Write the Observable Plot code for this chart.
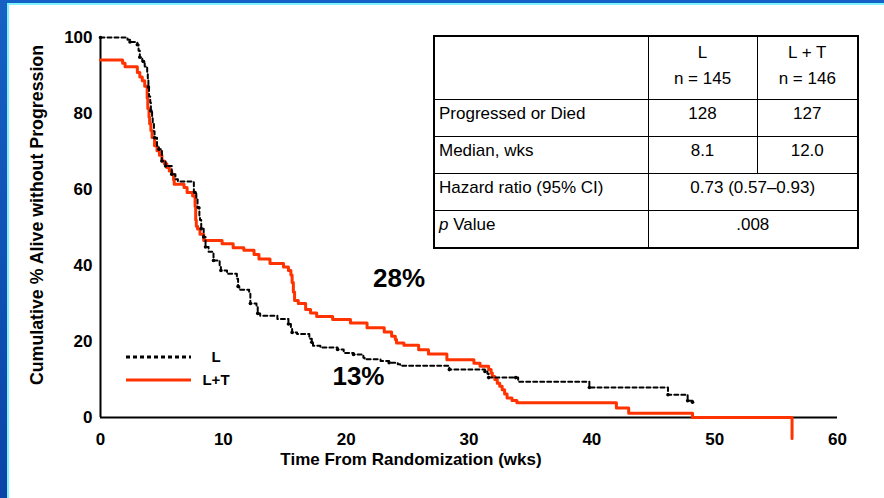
<!DOCTYPE html>
<html>
<head>
<meta charset="utf-8">
<script src="https://cdn.jsdelivr.net/npm/d3@7"></script>
<script src="https://cdn.jsdelivr.net/npm/@observablehq/plot@0.6"></script>
<style>
  html, body { margin: 0; padding: 0; background: #fff; }
  body { width: 884px; height: 498px; position: relative; overflow: hidden;
         font-family: "Liberation Sans", Arial, Helvetica, sans-serif; }
  #chart { position: absolute; left: 0; top: 0; }
  .band-left { position: absolute; left: 0; top: 0; width: 7px; height: 498px;
               background: linear-gradient(#1760c4, #0a44a6); }
  .band-left-c { position: absolute; left: 7px; top: 3px; width: 2px; height: 495px; background: #7ff3ff; }
  .band-top { position: absolute; left: 0; top: 0; width: 884px; height: 3px; background: #1462c8; }
  .band-top-c { position: absolute; left: 7px; top: 3px; width: 877px; height: 2px; background: #7ff3ff; }
  .ytitle { position: absolute; left: 37px; top: 215px; transform: translate(-50%, -50%) rotate(-90deg);
            white-space: nowrap; font-weight: bold; font-size: 17.8px; color: #000; }
  .xtitle { position: absolute; left: 411px; top: 460px; transform: translate(-50%, -50%);
            white-space: nowrap; font-weight: bold; font-size: 17px; color: #000; }
  table.stats { position: absolute; left: 433px; top: 35px; border-collapse: collapse;
                border: 2px solid #000; font-size: 17px; color: #000; table-layout: fixed; }
  table.stats td { border: 1px solid #000; padding: 0 0 8px 0; text-align: center; vertical-align: middle; }
  table.stats td.lab { text-align: left; padding-left: 4px; }
  table.stats tr.h td { height: 57px; line-height: 26px; padding-bottom: 5px; }
  table.stats tr.r td { height: 28px; }
  #legend { position: absolute; left: 0; top: 0; }
</style>
</head>
<body>
<div id="chart"></div>
<div class="band-top"></div>
<div class="band-left"></div>
<div class="band-left-c"></div>
<div class="band-top-c"></div>
<div class="ytitle" id="ytitle"></div>
<div class="xtitle" id="xtitle"></div>
<div id="tablewrap"></div>
<svg id="legend" width="884" height="498"></svg>
<script>
// ---- data ----
const xTicks = [0, 10, 20, 30, 40, 50, 60];
const yTicks = [0, 20, 40, 60, 80, 100];
const xTitle = "Time From Randomization (wks)";
const yTitle = "Cumulative % Alive without Progression";

// L arm (black dotted) Kaplan–Meier steps
const lTimes = [0, 2.2, 2.4, 3.0, 3.1, 3.2, 3.4, 3.6, 3.8, 3.85, 3.9, 3.95, 4.05, 4.1, 4.2, 4.25, 4.35, 4.4, 4.6, 4.75, 5.0, 5.3, 5.8, 6.1, 6.3, 7.6, 7.8, 7.9, 8.05, 8.1, 8.2, 8.4, 8.55, 8.8, 9.2, 9.7, 9.8, 10.3, 11.1, 11.2, 11.3, 12.1, 12.2, 12.7, 12.8, 13.0, 14.4, 15.3, 15.5, 15.6, 16.0, 17.0, 17.2, 17.3, 17.9, 19.3, 19.8, 20.6, 21.4, 21.5, 22.8, 23.5, 24.2, 24.4, 28.4, 31.3, 31.5, 31.6, 34.0, 39.8, 46.2, 47.8, 48.2];
const lSurv  = [100, 99.4, 98.8, 98.1, 96.5, 94.8, 93.7, 92.4, 91.0, 89.3, 87.0, 84.5, 82.9, 80.7, 79.0, 77.4, 75.3, 73.6, 71.3, 70.6, 67.5, 66.2, 64.0, 62.7, 62.1, 59.2, 57.5, 55.2, 52.5, 52.0, 49.7, 47.5, 44.9, 43.6, 41.3, 40.0, 38.7, 37.8, 36.5, 34.5, 33.6, 32.7, 30.0, 29.2, 27.4, 26.8, 25.9, 24.6, 23.3, 22.4, 22.0, 20.7, 19.8, 18.9, 18.4, 17.9, 17.0, 16.6, 15.7, 15.3, 14.9, 14.4, 14.0, 13.6, 12.6, 12.1, 11.5, 10.5, 9.4, 7.9, 6.0, 4.4, 4.0];
// censor marks on the L curve (times)
const lCensor = [0, 2.4, 3.0, 3.2, 3.5, 3.9, 4.1, 4.4, 4.75, 5.0, 5.3, 5.8, 7.7, 8.0, 8.2, 8.4, 8.55, 9.2, 9.8, 11.2, 12.2, 12.8, 15.3, 15.6, 17.2, 19.3, 20.6, 23.5, 28.4, 31.3, 31.6, 33.8, 39.8, 46.2, 47.8, 48.2];

// L+T arm (red) Kaplan–Meier steps
const ltTimes = [0, 1.8, 2.0, 3.0, 3.2, 3.4, 3.6, 3.8, 3.85, 3.95, 4.0, 4.1, 4.2, 4.4, 4.6, 4.8, 5.0, 5.2, 5.4, 5.6, 5.8, 5.95, 6.0, 6.8, 7.05, 7.5, 7.7, 7.75, 7.8, 7.9, 8.1, 8.4, 9.9, 10.8, 11.67, 12.5, 12.9, 13.8, 14.9, 15.3, 15.5, 15.6, 15.7, 15.8, 16.1, 16.7, 17.1, 17.6, 18.9, 20.35, 21.7, 23.1, 23.7, 24.0, 24.1, 24.7, 25.9, 26.7, 28.2, 30.4, 30.9, 31.6, 31.8, 31.9, 32.1, 32.3, 32.5, 32.7, 32.9, 33.1, 33.5, 33.9, 42.0, 43.0, 48.2, 56.3];
const ltSurv  = [94.1, 93.2, 92.3, 90.8, 89.6, 88.6, 87.2, 84.0, 81.3, 79.0, 77.3, 75.5, 73.7, 71.5, 70.2, 69.0, 67.5, 66.8, 65.8, 64.9, 64.0, 62.5, 61.4, 60.5, 59.2, 58.3, 55.5, 52.0, 50.3, 49.6, 48.2, 46.6, 45.7, 44.7, 44.0, 42.9, 41.7, 40.5, 39.6, 38.7, 37.5, 35.5, 33.0, 30.8, 30.0, 28.4, 27.5, 26.6, 25.8, 24.9, 23.6, 22.5, 21.4, 20.5, 19.6, 19.0, 17.8, 16.7, 15.2, 14.3, 13.5, 12.6, 11.7, 10.8, 10.0, 9.0, 8.2, 7.3, 6.2, 5.1, 4.5, 3.9, 2.5, 1.1, 0, -5.5];

// in-plot annotations
const annLabels = ["28%", "13%"];
const annX = [24.3, 21.0];
const annY = [36.6, 10.8];

// legend
const seriesNames = ["L", "L+T"];
const seriesColors = ["#000000", "#ff3300"];

// table
const tableHead = [["L", "n = 145"], ["L + T", "n = 146"]];
const tableRows = ["Progressed or Died", "Median, wks"];
const tableL = ["128", "8.1"];
const tableLT = ["127", "12.0"];
const hrLabel = "Hazard ratio (95% CI)";
const hrValue = "0.73 (0.57\u20130.93)";
const pValue = ".008";

// ---- build ----
const lData = lTimes.map((t, i) => ({t, s: lSurv[i]}));
const ltData = ltTimes.map((t, i) => ({t, s: ltSurv[i]}));
function stepAt(data, t) {
  let s = data[0].s;
  for (const d of data) { if (d.t <= t) s = d.s; else break; }
  return s;
}
const censorData = lCensor.map(t => ({t, s: stepAt(lData, t)}));
const annData = annLabels.map((label, i) => ({label, x: annX[i], y: annY[i]}));

const chart = Plot.plot({
  width: 884, height: 498,
  marginLeft: 100, marginRight: 47, marginTop: 37, marginBottom: 81,
  x: {domain: [0, 60], ticks: xTicks, tickSize: 0, tickPadding: 15, label: null},
  y: {domain: [0, 100], ticks: yTicks, tickSize: 0, tickPadding: 8, label: null},
  style: {fontFamily: '"Liberation Sans", Arial, sans-serif', fontSize: "17px", fontWeight: "bold", color: "#000", background: "transparent"},
  marks: [
    Plot.ruleY([0], {stroke: "#000", strokeWidth: 2}),
    Plot.ruleX([0], {stroke: "#000", strokeWidth: 2}),
    Plot.line(ltData, {x: "t", y: "s", curve: "step-after", stroke: seriesColors[1], strokeWidth: 3}),
    Plot.line(lData, {x: "t", y: "s", curve: "step-after", stroke: seriesColors[0], strokeWidth: 2, strokeDasharray: "4,3"}),
    Plot.dot(censorData, {x: "t", y: "s", r: 1.8, fill: "#000", stroke: "none"}),
    Plot.text(annData, {x: "x", y: "y", text: "label", fontSize: 26, fontWeight: "bold", fill: "#000"})
  ]
});
document.getElementById("chart").appendChild(chart);

document.getElementById("xtitle").textContent = xTitle;
document.getElementById("ytitle").textContent = yTitle;

// legend (drawn as static key)
const leg = d3.select("#legend");
const legY = [357, 380];
seriesNames.forEach((name, i) => {
  leg.append("line").attr("x1", 126).attr("x2", 191).attr("y1", legY[i]).attr("y2", legY[i])
    .attr("stroke", seriesColors[i]).attr("stroke-width", 3)
    .attr("stroke-dasharray", i === 0 ? "4,3" : null);
  leg.append("text").attr("x", 216).attr("y", legY[i]).attr("dy", "0.35em")
    .attr("text-anchor", "middle").attr("font-weight", "bold").attr("font-size", 15)
    .attr("font-family", '"Liberation Sans", Arial, sans-serif').text(name);
});

// table
const w = [214, 109, 101];
let html = '<table class="stats"><colgroup>' + w.map(x => `<col style="width:${x}px">`).join("") + '</colgroup>';
html += '<tr class="h"><td></td>' + tableHead.map(h => `<td>${h[0]}<br>${h[1]}</td>`).join("") + '</tr>';
tableRows.forEach((r, i) => {
  html += `<tr class="r"><td class="lab">${r}</td><td>${tableL[i]}</td><td>${tableLT[i]}</td></tr>`;
});
html += `<tr class="r"><td class="lab">${hrLabel}</td><td colspan="2">${hrValue}</td></tr>`;
html += `<tr class="r"><td class="lab"><i>p</i> Value</td><td colspan="2">${pValue}</td></tr>`;
html += '</table>';
document.getElementById("tablewrap").innerHTML = html;
</script>
</body>
</html>
